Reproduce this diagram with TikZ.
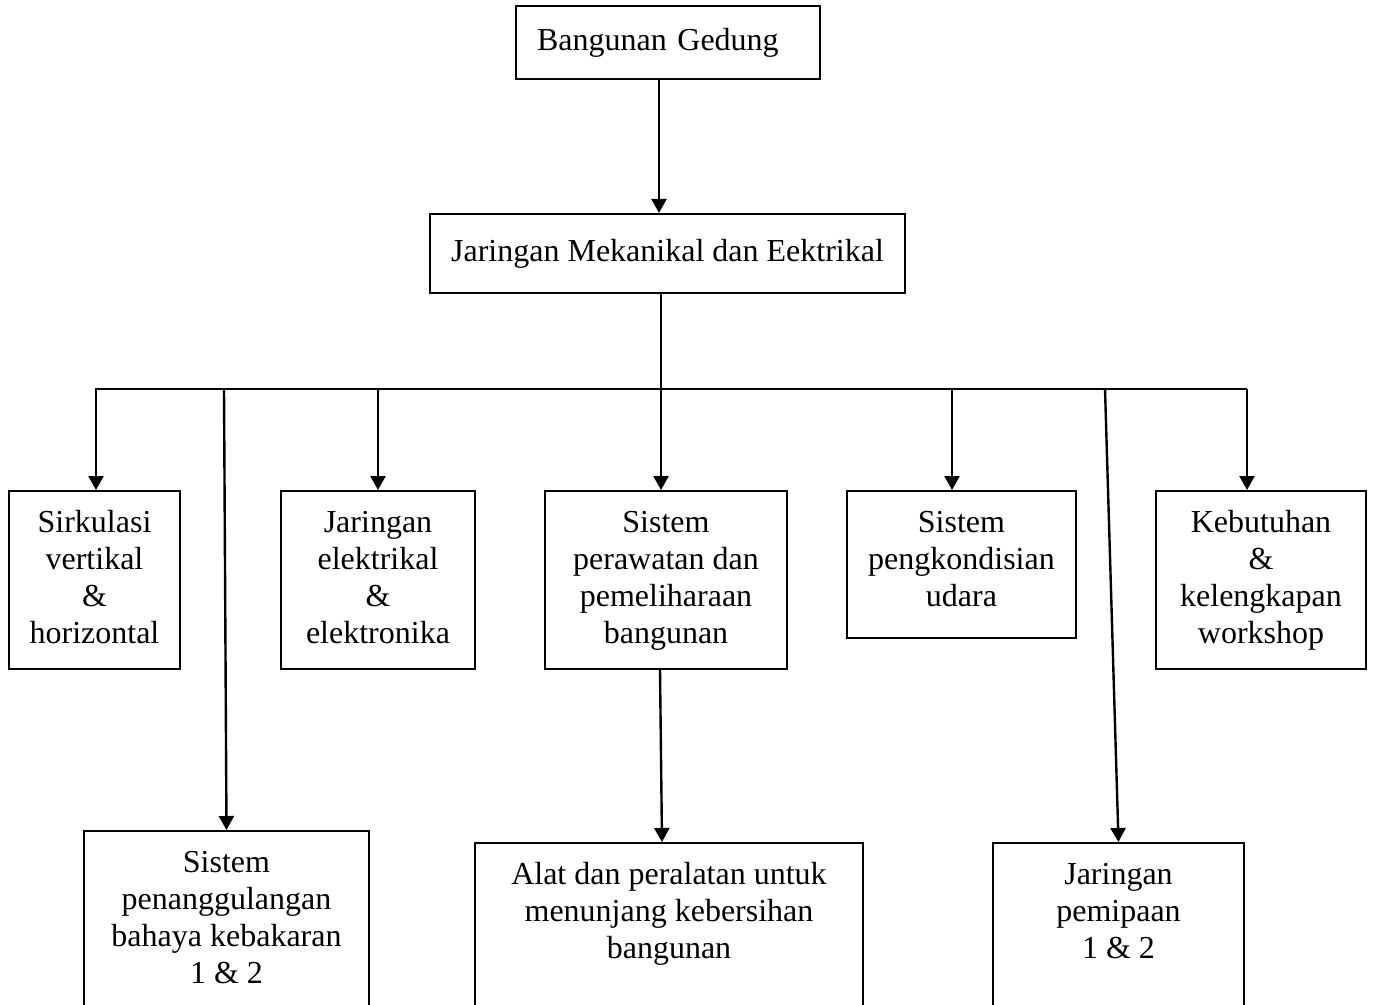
\documentclass[tikz,border=0pt]{standalone}
\usepackage{fontspec}
\setmainfont{Liberation Serif}
\usetikzlibrary{arrows.meta}
\newcommand\bxtext[3]{\parbox[c][#1][t]{#2}{\centering\rule{0pt}{20.5pt}#3}}
\begin{document}
\begin{tikzpicture}[x=0.5pt,y=-0.5pt,
  box/.style={draw, line width=1pt, inner sep=0pt, align=center, anchor=north west, font=\fontsize{16}{18.5}\selectfont},
  conn/.style={line width=1.2pt},
  arr/.style={conn, -{Triangle[width=7.5pt,length=7pt]}}]
\useasboundingbox (0,0) rectangle (1374,1005);
\clip (0,0) rectangle (1374,1005);
% top levels
\node[box, minimum width=152pt, minimum height=36.5pt, text width=131pt, inner xsep=10.5pt, align=left] (top) at (515,5) {Bangunan Gedung};
\node[box, minimum width=237.5pt, minimum height=39.5pt] (mek) at (429,213) {Jaringan Mekanikal dan Eektrikal};
% row 1
\node[box] (sirk) at (8,490) {\bxtext{89pt}{85.5pt}{Sirkulasi\\vertikal\\\&\\horizontal}};
\node[box] (elek) at (280,490) {\bxtext{89pt}{97pt}{Jaringan\\elektrikal\\\&\\elektronika}};
\node[box] (rawat) at (544,490) {\bxtext{89pt}{121pt}{Sistem\\perawatan dan\\pemeliharaan\\bangunan}};
\node[box] (udara) at (846,490) {\bxtext{73.5pt}{114.5pt}{Sistem\\pengkondisian\\udara}};
\node[box] (work) at (1155,490) {\bxtext{89pt}{105pt}{Kebutuhan\\\&\\kelengkapan\\workshop}};
% row 2 (cut off at the bottom)
\node[box] (bahaya) at (83,830) {\bxtext{100pt}{142.5pt}{Sistem\\penanggulangan\\bahaya kebakaran\\1 \& 2}};
\node[box] (alat) at (474,842) {\bxtext{94pt}{194pt}{Alat dan peralatan untuk\\menunjang kebersihan\\bangunan}};
\node[box] (pipa) at (992,842) {\bxtext{94pt}{125.5pt}{Jaringan\\pemipaan\\1 \& 2}};
% bus coordinates
\coordinate (busL) at (96,389);
\coordinate (b2) at (224,389);
\coordinate (b3) at (378,389);
\coordinate (b4) at (661,389);
\coordinate (b5) at (952,389);
\coordinate (b6) at (1105,389);
\coordinate (busR) at (1247,389);
% connectors
\draw[arr] ([xshift=-4.5pt]top.south) -- ([xshift=-4.5pt]top.south |- mek.north);
\draw[conn] (mek.south -| b4) -- (b4);
\draw[arr, line join=miter] (busR) -- (busL) -- (busL |- sirk.north);
\draw[arr] (busR) -- (busR |- work.north);
\draw[arr] (b2) -- (bahaya.north);
\draw[arr] (b3) -- (b3 |- elek.north);
\draw[arr] (b4) -- (b4 |- rawat.north);
\draw[arr] (b5) -- (b5 |- udara.north);
\draw[arr] (b6) -- (pipa.north);
\draw[arr] ([xshift=-3pt]rawat.south) -- ([xshift=-3.5pt]alat.north);
\end{tikzpicture}
\end{document}
